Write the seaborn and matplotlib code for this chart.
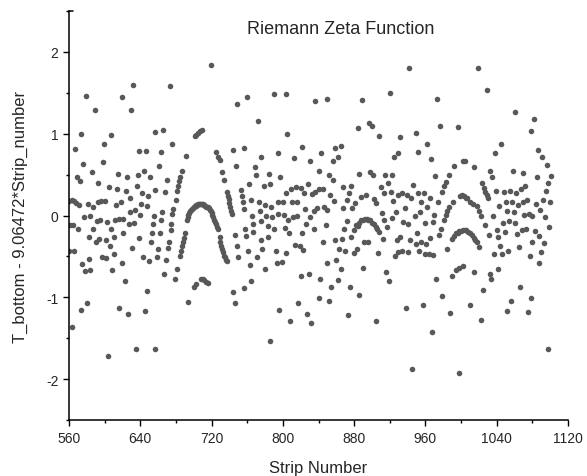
# Riemann zeta scatter: T_bottom residual per strip

import numpy as np
import pandas as pd
import matplotlib
matplotlib.use("Agg")
import matplotlib.pyplot as plt
from matplotlib.ticker import MultipleLocator
import seaborn as sns

# values, split by strip range
strips_a = [579, 589, 574, 607, 567, 599, 576, 598, 569, 572, 586, 593, 615, 605, 614,
            560, 563, 566, 568, 571, 581, 587, 592, 596, 600, 613, 577, 584, 561, 564,
            570, 587, 591, 595, 603, 607, 612, 616, 583, 590, 594, 602, 606, 611, 560,
            566, 597, 601, 610, 575, 582, 578, 584, 608, 580, 573, 616, 563, 604]
vals_a = [1.46, 1.29, 1.00, 0.98, 0.81, 0.88, 0.63, 0.65, 0.47, 0.42, 0.53, 0.40, 0.51, 0.35, 0.33,
          0.18, 0.19, 0.18, 0.15, 0.13, 0.14, 0.10, 0.16, 0.18, 0.18, 0.13, -0.02, 0.00, -0.12, -0.12,
          -0.17, -0.16, -0.07, -0.05, -0.08, -0.16, -0.06, -0.04, -0.26, -0.32, -0.29, -0.30, -0.37, -0.26, -0.44,
          -0.44, -0.51, -0.52, -0.47, -0.59, -0.53, -0.68, -0.67, -0.67, -1.07, -1.16, -1.13, -1.36, -1.72]

strips_b = [632, 673, 620, 630, 656, 666, 639, 646, 663, 676, 661, 625, 637, 644, 651,
            670, 682, 636, 624, 642, 649, 657, 668, 681, 618, 629, 641, 648, 680, 621,
            628, 634, 640, 655, 664, 677, 676, 627, 633, 654, 663, 675, 621, 653, 662,
            674, 638, 652, 672, 631, 660, 671, 643, 650, 659, 669, 619, 667, 681, 679,
            623, 647, 626, 645, 635, 657]
vals_b = [1.60, 1.58, 1.45, 1.29, 1.02, 1.04, 0.79, 0.79, 0.78, 0.87, 0.60, 0.47, 0.50, 0.54, 0.47,
          0.44, 0.36, 0.36, 0.30, 0.27, 0.24, 0.31, 0.29, 0.30, 0.16, 0.21, 0.14, 0.12, 0.19, -0.04,
          0.04, 0.07, 0.01, 0.00, 0.04, 0.08, 0.02, -0.11, -0.09, -0.11, -0.05, -0.11, -0.22, -0.22, -0.22,
          -0.18, -0.27, -0.33, -0.32, -0.40, -0.41, -0.40, -0.51, -0.56, -0.51, -0.55, -0.58, -0.71, -0.66, -0.78,
          -0.80, -0.92, -1.20, -1.17, -1.63, -1.63]

# the arc around strip 710 plus its neighbours
strips_c = [719, 749, 701, 703, 705, 707, 709, 691, 725, 727, 729, 744, 747, 687, 685,
            684, 732, 734, 737, 738, 739, 740, 741, 742, 743,
            685, 686, 687, 688, 689, 690, 692, 693, 694, 695, 696, 697, 698, 699, 700,
            701, 702, 703, 704, 705, 706, 707, 708, 709, 710, 711, 712, 713, 714, 715,
            716, 717, 718, 719, 720, 721, 722, 723, 724, 725, 726, 727, 729, 730, 731,
            732, 733, 734, 735, 736, 737,
            700, 702, 708, 710, 712, 714, 716, 693, 744, 746, 746, 749, 750]
vals_c = [1.84, 1.36, 0.97, 0.99, 1.01, 1.03, 1.04, 0.73, 0.78, 0.72, 0.68, 0.80, 0.60, 0.55, 0.47,
          0.42, 0.53, 0.44, 0.29, 0.24, 0.20, 0.15, 0.11, 0.06, 0.02,
          -0.50, -0.43, -0.37, -0.32, -0.27, -0.21, -0.05, -0.02, 0.01, 0.03, 0.05, 0.07, 0.08, 0.09, 0.11,
          0.12, 0.12, 0.13, 0.13, 0.14, 0.14, 0.14, 0.14, 0.14, 0.14, 0.13, 0.13, 0.12, 0.11, 0.11,
          0.10, 0.09, 0.07, 0.05, 0.03, 0.01, -0.02, -0.05, -0.08, -0.11, -0.14, -0.17, -0.26, -0.32, -0.37,
          -0.41, -0.45, -0.49, -0.51, -0.54, -0.56,
          -0.87, -0.84, -0.78, -0.78, -0.79, -0.81, -0.82, -1.06, -0.94, -1.07, -0.24, -0.37, -0.51]

strips_d = [760, 790, 803, 772, 805, 756, 775, 795, 812, 769, 770, 784, 797, 762, 779,
            786, 753, 754, 755, 756, 804, 809, 815, 764, 773, 780, 787, 794, 800, 810,
            816, 774, 765, 781, 788, 794, 801, 806, 811, 816, 766, 775, 757, 767, 783,
            790, 802, 759, 783, 776, 807, 814, 761, 777, 792, 804, 771, 793, 799, 763,
            780, 756, 764, 817, 796, 808, 786]
vals_d = [1.45, 1.49, 1.48, 1.16, 1.00, 0.82, 0.72, 0.77, 0.70, 0.59, 0.49, 0.51, 0.47, 0.38, 0.36,
          0.38, 0.31, 0.24, 0.16, 0.08, 0.27, 0.33, 0.35, 0.19, 0.16, 0.13, 0.11, 0.16, 0.16, 0.16,
          0.17, 0.05, 0.00, 0.00, -0.02, 0.02, 0.01, -0.06, -0.02, -0.01, -0.11, -0.07, -0.17, -0.20, -0.13,
          -0.16, -0.15, -0.25, -0.26, -0.30, -0.22, -0.36, -0.43, -0.41, -0.44, -0.46, -0.51, -0.58, -0.57, -0.61,
          -0.65, -0.89, -0.80, -1.07, -1.16, -1.29, -1.54]

strips_e = [836, 849, 884, 821, 843, 858, 865, 862, 856, 831, 840, 852, 856, 828, 820,
            824, 833, 836, 840, 845, 853, 857, 867, 877, 874, 872, 881, 825, 835, 838,
            846, 850, 868, 878, 830, 872, 826, 848, 835, 882, 880, 869, 822, 877, 845,
            859, 866, 819, 823, 863, 870, 880, 883, 850, 860, 865, 820, 829, 842, 854,
            862, 875, 840, 852, 827, 873, 832]
vals_e = [1.40, 1.42, 1.07, 0.84, 0.77, 0.82, 0.85, 0.72, 0.67, 0.67, 0.55, 0.49, 0.43, 0.38, 0.34,
          0.28, 0.26, 0.29, 0.32, 0.33, 0.25, 0.18, 0.35, 0.36, 0.28, 0.19, 0.15, 0.08, 0.05, 0.09,
          0.11, 0.07, 0.09, 0.09, -0.02, -0.07, -0.11, -0.12, -0.16, -0.12, -0.18, -0.17, -0.22, -0.26, -0.33,
          -0.30, -0.29, -0.37, -0.42, -0.41, -0.43, -0.46, -0.41, -0.58, -0.55, -0.66, -0.74, -0.71, -0.78, -0.87,
          -0.79, -0.87, -1.01, -1.04, -1.20, -1.22, -1.31]

strips_f = [942, 920, 889, 897, 900, 908, 932, 949, 925, 929, 886, 898, 901, 915, 923,
            910, 918, 946, 888, 893, 902, 904, 913, 921, 924, 929, 934, 939, 944, 911,
            927, 937, 948,
            884, 886, 888, 890, 892, 894, 896, 898, 900, 902, 904, 906, 908,
            914, 922, 917, 935, 940, 891, 896, 912, 928, 932, 943, 949, 907, 926, 929,
            934, 941, 890, 916, 919, 886, 938, 904, 945]
vals_f = [1.80, 1.50, 1.41, 1.13, 1.10, 0.97, 0.96, 1.01, 0.71, 0.76, 0.51, 0.53, 0.50, 0.50, 0.50,
          0.35, 0.40, 0.37, 0.23, 0.25, 0.20, 0.15, 0.27, 0.29, 0.18, 0.25, 0.27, 0.25, 0.22, 0.03,
          0.04, 0.09, 0.00,
          -0.13, -0.09, -0.06, -0.05, -0.04, -0.04, -0.05, -0.06, -0.09, -0.11, -0.14, -0.17, -0.20,
          -0.05, -0.03, -0.14, -0.08, -0.11, -0.33, -0.33, -0.29, -0.30, -0.26, -0.30, -0.35, -0.46, -0.49, -0.45,
          -0.43, -0.45, -0.64, -0.69, -0.80, -0.97, -1.13, -1.29, -1.88]

strips_g = [973, 976, 997, 962, 952, 966, 992, 1002, 1004, 1014, 971, 986, 983, 981, 979,
            952, 958, 965, 955, 962, 974, 999, 1001, 1003, 1005, 1007, 1010, 1013, 991, 986,
            984, 983, 981, 954, 970, 959, 968, 977, 951, 965, 975,
            990, 992, 994, 996, 998, 1000, 1002, 1004, 1006, 1008, 1010, 1012, 1014, 1016, 1018,
            1020,
            955, 961, 953, 959, 964, 969, 984, 972, 990, 994, 998, 1002, 1014, 979, 957,
            988, 1010, 967, 998]
vals_g = [1.42, 1.09, 1.08, 0.87, 0.78, 0.69, 0.60, 0.67, 0.67, 0.59, 0.48, 0.50, 0.41, 0.36, 0.29,
          0.27, 0.27, 0.21, 0.16, 0.11, 0.16, 0.24, 0.25, 0.24, 0.22, 0.21, 0.17, 0.14, 0.16, 0.11,
          0.06, 0.01, -0.05, 0.04, 0.01, -0.09, -0.08, -0.17, -0.22, -0.27, -0.24,
          -0.29, -0.25, -0.22, -0.21, -0.19, -0.19, -0.18, -0.18, -0.18, -0.20, -0.21, -0.24, -0.27, -0.30, -0.33,
          -0.38,
          -0.33, -0.35, -0.44, -0.47, -0.47, -0.48, -0.41, -0.78, -0.74, -0.67, -0.64, -0.62, -0.69, -0.98, -1.09,
          -1.19, -1.09, -1.43, -1.93]

strips_h = [1019, 1029, 1060, 1082, 1079, 1045, 1038, 1086, 1091, 1096, 1101, 1098, 1033, 1035, 1058,
            1070, 1085, 1024, 1026, 1027, 1029, 1030, 1039, 1048, 1055, 1062, 1067, 1072, 1095, 1100,
            1092, 1084, 1043, 1050, 1057, 1064, 1069, 1074, 1018, 1020, 1022, 1052, 1059, 1071, 1076,
            1080, 1089, 1036, 1094, 1047, 1054, 1061, 1027, 1099, 1040, 1049, 1068, 1073, 1083, 1031,
            1041, 1063, 1087, 1080, 1093, 1044, 1065, 1037, 1046, 1053, 1077, 1090, 1087, 1041, 1032,
            1034, 1025, 1066, 1056, 1078, 1051, 1075, 1022, 1097]
vals_h = [1.80, 1.54, 1.26, 1.18, 1.03, 0.87, 0.77, 0.80, 0.72, 0.62, 0.48, 0.40, 0.55, 0.47, 0.54,
          0.52, 0.47, 0.40, 0.34, 0.29, 0.25, 0.22, 0.30, 0.29, 0.30, 0.27, 0.33, 0.36, 0.30, 0.17,
          0.19, 0.14, 0.12, 0.17, 0.17, 0.13, 0.17, 0.19, 0.12, 0.05, 0.00, 0.06, 0.04, 0.01, 0.02,
          0.00, 0.07, 0.00, -0.02, -0.09, -0.07, -0.09, -0.12, -0.14, -0.18, -0.20, -0.18, -0.16, -0.19, -0.24,
          -0.26, -0.23, -0.25, -0.33, -0.34, -0.37, -0.38, -0.47, -0.47, -0.43, -0.50, -0.45, -0.58, -0.65, -0.71,
          -0.78, -0.91, -0.88, -1.04, -1.01, -1.17, -1.18, -1.28, -1.63]

df = pd.DataFrame({
    "strip": strips_a + strips_b + strips_c + strips_d + strips_e + strips_f + strips_g + strips_h,
    "resid": vals_a + vals_b + vals_c + vals_d + vals_e + vals_f + vals_g + vals_h,
})

sns.set_style("ticks")
plt.rcParams["font.family"] = ["Liberation Sans", "DejaVu Sans"]
plt.rcParams["axes.unicode_minus"] = False

fig = plt.figure(figsize=(5.87, 4.77), dpi=100)
ax = fig.add_axes([69 / 587, 1 - 421 / 477, 499 / 587, 409 / 477])

sns.scatterplot(data=df, x="strip", y="resid", color="#585858", s=16,
                linewidth=0, ax=ax, legend=False)

ax.set_xlim(560, 1120)
ax.set_ylim(-2.5, 2.5)
ax.xaxis.set_major_locator(MultipleLocator(80))
ax.xaxis.set_minor_locator(MultipleLocator(40))
ax.yaxis.set_major_locator(MultipleLocator(1))
ax.yaxis.set_minor_locator(MultipleLocator(0.5))
ax.tick_params(which="major", direction="out", length=4, width=1, labelsize=10, color="black")
ax.tick_params(which="minor", direction="out", length=2.5, width=1, color="black")
ax.tick_params(axis="x", pad=4)

for side in ["top", "right"]:
    ax.spines[side].set_visible(False)
for side in ["left", "bottom"]:
    ax.spines[side].set_linewidth(1.1)
    ax.spines[side].set_color("black")

# small cap at the top of the y axis
ax.plot([0, 0.008], [1, 1], transform=ax.transAxes, color="black", lw=1.1, clip_on=False)

ax.set_xlabel("Strip Number", fontsize=12, labelpad=11)
ax.set_ylabel("T_bottom - 9.06472*Strip_number", fontsize=12, labelpad=13)
ax.text(0.545, 0.956, "Riemann Zeta Function", transform=ax.transAxes,
        ha="center", va="center", fontsize=13)

fig.savefig("out.png", dpi=100)
